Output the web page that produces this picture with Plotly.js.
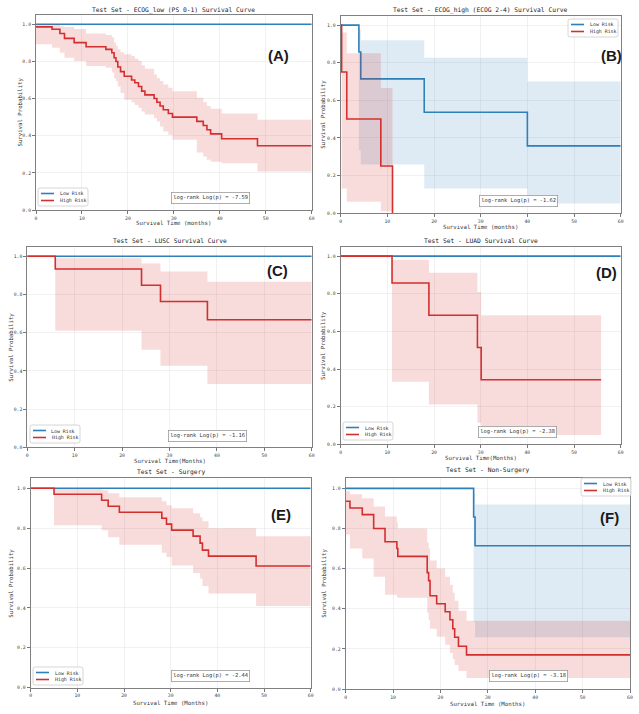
<!DOCTYPE html>
<html>
<head>
<meta charset="utf-8">
<script src="https://cdn.plot.ly/plotly-3.0.1.min.js"></script>
<style>
  html, body { margin: 0; padding: 0; background: #ffffff; }
  #chart { width: 639px; height: 714px; }
</style>
</head>
<body>
<div id="chart"></div>
<script>
// ---------- Kaplan-Meier estimates: time (months), survival, 95% CI ----------
const seriesNames = ['Low Risk', 'High Risk'];
const xTickVals = [0, 10, 20, 30, 40, 50, 60];
const yTickVals = [0.0, 0.2, 0.4, 0.6, 0.8, 1.0];

const panelTitles = [
  'Test Set - ECOG_low (PS 0-1) Survival Curve',
  'Test Set - ECOG_high (ECOG 2-4) Survival Curve',
  'Test Set - LUSC Survival Curve',
  'Test Set - LUAD Survival Curve',
  'Test Set - Surgery',
  'Test Set - Non-Surgery'
];
const panelTags = ['(A)', '(B)', '(C)', '(D)', '(E)', '(F)'];
const xAxisLabels = [
  'Survival Time (months)',
  'Survival Time (months)',
  'Survival Time(Months)',
  'Survival Time(Months)',
  'Survival Time (Months)',
  'Survival Time (Months)'
];
const yAxisLabel = 'Survival Probability';
const logRankLogP = [-7.59, -1.62, -1.16, -2.38, -2.44, -3.18];

// (A) ECOG low
const A_low_t  = [0, 60];
const A_low_s  = [1, 1];
const A_high_t  = [0, 3.5, 5.2, 6.2, 8.3, 10.9, 15.2, 16.5, 17.0, 17.4, 17.8, 18.4, 19.2, 20.8, 21.5, 22.3, 23.0, 23.7, 25.7, 26.3, 27.0, 27.7, 28.8, 29.7, 35.0, 36.4, 37.2, 38.0, 40.4, 48.2, 60];
const A_high_s  = [0.986, 0.973, 0.95, 0.924, 0.901, 0.879, 0.865, 0.847, 0.82, 0.80, 0.77, 0.745, 0.72, 0.70, 0.685, 0.665, 0.64, 0.62, 0.60, 0.58, 0.56, 0.54, 0.52, 0.50, 0.477, 0.455, 0.432, 0.41, 0.384, 0.346, 0.346];
const A_high_lo = [0.892, 0.874, 0.847, 0.82, 0.802, 0.775, 0.766, 0.74, 0.71, 0.694, 0.665, 0.63, 0.594, 0.58, 0.565, 0.55, 0.53, 0.514, 0.495, 0.477, 0.45, 0.423, 0.405, 0.378, 0.31, 0.288, 0.27, 0.26, 0.252, 0.207, 0.207];
const A_high_hi = [1.0, 1.0, 0.99, 0.985, 0.975, 0.95, 0.942, 0.93, 0.90, 0.885, 0.865, 0.85, 0.838, 0.829, 0.815, 0.802, 0.78, 0.76, 0.73, 0.71, 0.694, 0.676, 0.658, 0.64, 0.604, 0.58, 0.56, 0.545, 0.52, 0.486, 0.486];

// (B) ECOG high
const B_low_t  = [0, 3.9, 4.3, 17.9, 40.0, 60];
const B_low_s  = [1, 0.857, 0.714, 0.536, 0.357, 0.357];
const B_low_lo = [1, 0.334, 0.258, 0.13, 0.05, 0.05];
const B_low_hi = [1, 0.979, 0.92, 0.826, 0.70, 0.70];
const B_high_t  = [0, 0.2, 1.3, 8.6, 11.1];
const B_high_s  = [1, 0.75, 0.5, 0.25, 0.0];
const B_high_lo = [1, 0.13, 0.06, 0.009, 0.009];
const B_high_hi = [1, 0.96, 0.85, 0.665, 0.665];

// (C) LUSC
const C_low_t  = [0, 60];
const C_low_s  = [1, 1];
const C_high_t  = [0, 5.9, 24.1, 28.1, 38.0, 60];
const C_high_s  = [1, 0.933, 0.848, 0.763, 0.668, 0.668];
const C_high_lo = [1, 0.61, 0.51, 0.427, 0.331, 0.331];
const C_high_hi = [1, 0.99, 0.962, 0.92, 0.866, 0.866];

// (D) LUAD
const D_low_t  = [0, 60];
const D_low_s  = [1, 1];
const D_high_t  = [0, 11.0, 18.9, 29.3, 30.1, 55.8];
const D_high_s  = [1, 0.857, 0.686, 0.514, 0.343, 0.343];
const D_high_lo = [1, 0.332, 0.212, 0.115, 0.05, 0.05];
const D_high_hi = [1, 0.981, 0.912, 0.809, 0.686, 0.686];

// (E) Surgery
const E_low_t  = [0, 60];
const E_low_s  = [1, 1];
const E_high_t  = [0, 5.0, 15.2, 16.6, 19.0, 28.1, 29.1, 30.2, 34.8, 36.3, 36.8, 38.1, 48.3, 60];
const E_high_s  = [1, 0.97, 0.94, 0.91, 0.88, 0.85, 0.82, 0.79, 0.76, 0.725, 0.69, 0.66, 0.61, 0.61];
const E_high_lo = [1, 0.815, 0.79, 0.755, 0.717, 0.677, 0.655, 0.613, 0.575, 0.547, 0.51, 0.472, 0.41, 0.41];
const E_high_hi = [1, 0.996, 0.99, 0.975, 0.955, 0.935, 0.915, 0.90, 0.875, 0.855, 0.835, 0.80, 0.76, 0.76];

// (F) Non-surgery
const F_low_t  = [0, 27.0, 27.3, 60];
const F_low_s  = [1, 0.857, 0.714, 0.714];
const F_low_lo = [1, 0.334, 0.258, 0.258];
const F_low_hi = [1, 0.979, 0.92, 0.92];
const F_high_t  = [0, 0.9, 3.5, 5.9, 8.3, 10.8, 11.0, 17.2, 17.5, 17.8, 19.2, 21.0, 22.0, 22.6, 23.0, 23.8, 25.5, 60];
const F_high_s  = [0.936, 0.902, 0.869, 0.80, 0.734, 0.70, 0.661, 0.58, 0.54, 0.465, 0.425, 0.385, 0.345, 0.30, 0.258, 0.213, 0.17, 0.17];
const F_high_lo = [0.77, 0.70, 0.65, 0.56, 0.47, 0.46, 0.455, 0.38, 0.345, 0.30, 0.26, 0.22, 0.18, 0.15, 0.12, 0.09, 0.055, 0.055];
const F_high_hi = [0.985, 0.97, 0.95, 0.91, 0.86, 0.83, 0.80, 0.73, 0.70, 0.64, 0.60, 0.56, 0.52, 0.48, 0.44, 0.39, 0.34, 0.34];

// ---------- assemble panels ----------
const curves = [
  { low: {t: A_low_t, s: A_low_s}, high: {t: A_high_t, s: A_high_s, lo: A_high_lo, hi: A_high_hi} },
  { low: {t: B_low_t, s: B_low_s, lo: B_low_lo, hi: B_low_hi}, high: {t: B_high_t, s: B_high_s, lo: B_high_lo, hi: B_high_hi} },
  { low: {t: C_low_t, s: C_low_s}, high: {t: C_high_t, s: C_high_s, lo: C_high_lo, hi: C_high_hi} },
  { low: {t: D_low_t, s: D_low_s}, high: {t: D_high_t, s: D_high_s, lo: D_high_lo, hi: D_high_hi} },
  { low: {t: E_low_t, s: E_low_s}, high: {t: E_high_t, s: E_high_s, lo: E_high_lo, hi: E_high_hi} },
  { low: {t: F_low_t, s: F_low_s, lo: F_low_lo, hi: F_low_hi}, high: {t: F_high_t, s: F_high_s, lo: F_high_lo, hi: F_high_hi} }
];

// Page geometry (pixels): plot frames and label placements
const W = 639, H = 714;
const frames = [
  {l: 36.0,  r: 311.7, t: 15.0,  b: 210.0, titleY: 10,    xlabY: 223,   ylabX: 20,
   leg: {x: 38,  y: 188}, lr: {x: 210.5, y: 198},   tag: {x: 278, y: 56}},
  {l: 340.7, r: 620.7, t: 15.7,  b: 213.0, titleY: 10,    xlabY: 227,   ylabX: 323.5,
   leg: {x: 568, y: 19},  lr: {x: 518,   y: 201},   tag: {x: 611, y: 56}},
  {l: 27.3,  r: 311.7, t: 246.7, b: 447.3, titleY: 240.7, xlabY: 461,   ylabX: 10.7,
   leg: {x: 30,  y: 425}, lr: {x: 207.5, y: 435.5}, tag: {x: 277, y: 270}},
  {l: 340.7, r: 620.7, t: 246.7, b: 444.3, titleY: 240.7, xlabY: 457.7, ylabX: 323.5,
   leg: {x: 343, y: 422}, lr: {x: 517.5, y: 432},   tag: {x: 606, y: 272}},
  {l: 30.7,  r: 310.7, t: 478.3, b: 687.7, titleY: 471.7, xlabY: 703.3, ylabX: 10.7,
   leg: {x: 33,  y: 667}, lr: {x: 210,   y: 675.5}, tag: {x: 281, y: 514}},
  {l: 345.7, r: 630.0, t: 478.3, b: 689.0, titleY: 469.7, xlabY: 704,   ylabX: 325,
   leg: {x: 581, y: 478}, lr: {x: 528.5, y: 675.5}, tag: {x: 609, y: 517}}
];

const px = v => v / W;          // pixel x -> paper
const py = v => 1 - v / H;      // pixel y -> paper

const COLORS = {
  low:  '#2f7fb8',
  high: '#d32f2f',
  lowBand:  'rgba(31,119,180,0.15)',
  highBand: 'rgba(214,39,40,0.17)'
};
const MONO = 'DejaVu Sans Mono, monospace';

const traces = [];
const annotations = [];
const shapes = [];
const layout = {
  width: W, height: H,
  margin: {l: 0, r: 0, t: 0, b: 0, pad: 0},
  paper_bgcolor: '#ffffff',
  plot_bgcolor: '#ffffff',
  showlegend: false,
  font: {family: MONO, color: '#333333', size: 6},
  hovermode: false
};

function addCurve(c, key, ax) {
  const xa = 'x' + ax, ya = 'y' + ax;
  if (c.lo && c.hi) {
    traces.push({type: 'scatter', mode: 'lines', x: c.t, y: c.lo, xaxis: xa, yaxis: ya,
      line: {shape: 'hv', width: 0, color: 'rgba(0,0,0,0)'}, hoverinfo: 'skip'});
    traces.push({type: 'scatter', mode: 'lines', x: c.t, y: c.hi, xaxis: xa, yaxis: ya,
      fill: 'tonexty', fillcolor: COLORS[key + 'Band'],
      line: {shape: 'hv', width: 0, color: 'rgba(0,0,0,0)'}, hoverinfo: 'skip'});
  }
  traces.push({type: 'scatter', mode: 'lines', x: c.t, y: c.s, xaxis: xa, yaxis: ya,
    name: key === 'low' ? seriesNames[0] : seriesNames[1],
    line: {shape: 'hv', width: 1.6, color: COLORS[key]}, hoverinfo: 'skip'});
}

function roundedRect(x0, y0, x1, y1, r) {
  // pixel rectangle with rounded corners -> paper path
  const P = (x, y) => px(x).toFixed(5) + ',' + py(y).toFixed(5);
  return 'M' + P(x0 + r, y0) + ' L' + P(x1 - r, y0) + ' Q' + P(x1, y0) + ' ' + P(x1, y0 + r) +
         ' L' + P(x1, y1 - r) + ' Q' + P(x1, y1) + ' ' + P(x1 - r, y1) +
         ' L' + P(x0 + r, y1) + ' Q' + P(x0, y1) + ' ' + P(x0, y1 - r) +
         ' L' + P(x0, y0 + r) + ' Q' + P(x0, y0) + ' ' + P(x0 + r, y0) + ' Z';
}

frames.forEach((f, i) => {
  const k = i + 1;
  const sfx = k === 1 ? '' : String(k);
  const axCommon = {
    showline: true, mirror: true, linecolor: '#808080', linewidth: 1,
    showgrid: true, gridcolor: '#e8e8e8', gridwidth: 0.6,
    zeroline: false, ticks: 'outside', ticklen: 3, tickwidth: 0.8, tickcolor: '#555555',
    tickfont: {family: MONO, size: 4.8, color: '#444444'}, fixedrange: true
  };
  layout['xaxis' + sfx] = Object.assign({}, axCommon, {
    domain: [px(f.l), px(f.r)], range: [0, 60], anchor: 'y' + sfx,
    tickmode: 'array', tickvals: xTickVals, ticktext: xTickVals.map(String)
  });
  layout['yaxis' + sfx] = Object.assign({}, axCommon, {
    domain: [py(f.b), py(f.t)], range: [0, 1.05], anchor: 'x' + sfx,
    tickmode: 'array', tickvals: yTickVals, ticktext: yTickVals.map(v => v.toFixed(1))
  });

  // curves: low risk first, high risk drawn on top
  addCurve(curves[i].low, 'low', sfx);
  addCurve(curves[i].high, 'high', sfx);

  const cx = (f.l + f.r) / 2, cy = (f.t + f.b) / 2;
  annotations.push({xref: 'paper', yref: 'paper', x: px(cx), y: py(f.titleY), text: panelTitles[i],
    showarrow: false, xanchor: 'center', yanchor: 'middle', font: {family: MONO, size: 6.3, color: '#222222'}});
  annotations.push({xref: 'paper', yref: 'paper', x: px(cx), y: py(f.xlabY), text: xAxisLabels[i],
    showarrow: false, xanchor: 'center', yanchor: 'middle', font: {family: MONO, size: 5.7, color: '#333333'}});
  annotations.push({xref: 'paper', yref: 'paper', x: px(f.ylabX), y: py(cy), text: yAxisLabel, textangle: -90,
    showarrow: false, xanchor: 'center', yanchor: 'middle', font: {family: MONO, size: 5.7, color: '#333333'}});
  annotations.push({xref: 'paper', yref: 'paper', x: px(f.lr.x), y: py(f.lr.y),
    text: 'log-rank Log(p) = ' + logRankLogP[i].toFixed(2),
    showarrow: false, xanchor: 'center', yanchor: 'middle',
    bgcolor: '#ffffff', bordercolor: '#9a9a9a', borderwidth: 0.8, borderpad: 1.5,
    font: {family: MONO, size: 5.4, color: '#333333'}});
  annotations.push({xref: 'paper', yref: 'paper', x: px(f.tag.x), y: py(f.tag.y), text: '<b>' + panelTags[i] + '</b>',
    showarrow: false, xanchor: 'center', yanchor: 'middle',
    font: {family: 'Liberation Sans, Arial, sans-serif', size: 15, color: '#1a1a1a'}});

  // legend box
  const lx = f.leg.x, ly = f.leg.y, lw = 50, lh = 18;
  shapes.push({type: 'path', xref: 'paper', yref: 'paper', path: roundedRect(lx, ly, lx + lw, ly + lh, 2),
    fillcolor: 'rgba(255,255,255,0.85)', line: {color: '#cccccc', width: 0.8}, layer: 'above'});
  [['low', 5.5], ['high', 12.5]].forEach(([key, dy], j) => {
    shapes.push({type: 'line', xref: 'paper', yref: 'paper',
      x0: px(lx + 3), x1: px(lx + 16), y0: py(ly + dy), y1: py(ly + dy),
      line: {color: COLORS[key], width: 1.6}, layer: 'above'});
    annotations.push({xref: 'paper', yref: 'paper', x: px(lx + 19.5), y: py(ly + dy), text: seriesNames[j],
      showarrow: false, xanchor: 'left', yanchor: 'middle', font: {family: MONO, size: 4.9, color: '#333333'}});
  });
});

layout.annotations = annotations;
layout.shapes = shapes;

Plotly.newPlot('chart', traces, layout, {displayModeBar: false, staticPlot: true});
</script>
</body>
</html>
